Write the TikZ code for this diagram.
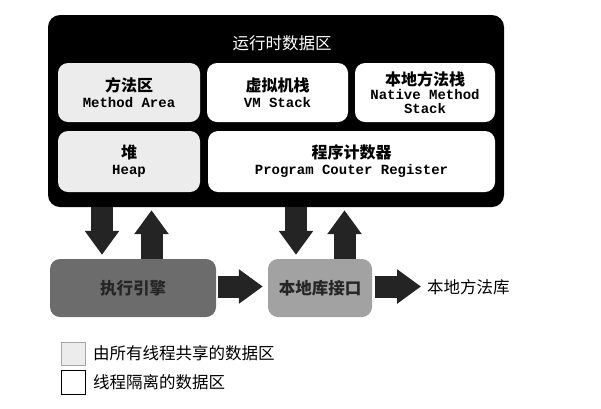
\documentclass[tikz,border=0pt]{standalone}
\usepackage{fontspec}
\setmainfont{Noto Sans CJK SC}
\newfontfamily\cjk{Noto Sans CJK SC}
\newfontfamily\mono{Liberation Mono}
\usetikzlibrary{arrows.meta}
\definecolor{shared}{HTML}{ECECEC}
\definecolor{engine}{HTML}{6C6C6C}
\definecolor{iface}{HTML}{A2A2A2}
\definecolor{arrowc}{HTML}{242424}
\tikzset{
  area/.style={draw=none, rounded corners=10pt, align=center, inner sep=0pt,
    font=\fontsize{16}{18}\selectfont\bfseries},
  sharedarea/.style={area, fill=shared},
  privarea/.style={area, fill=white},
  lowerbox/.style={draw=none, rounded corners=10pt, inner sep=0pt,
    font=\fontsize{16.5}{18}\selectfont\bfseries, text=black!85},
  blk/.style={draw=arrowc, line width=22pt,
    -{Triangle[length=24pt,width=33pt]}},
  legendsq/.style={minimum width=24pt, minimum height=23pt, inner sep=0pt},
  legendtxt/.style={anchor=west, inner sep=0pt, font=\fontsize{16.5}{18}\selectfont},
}
\newcommand{\mn}[1]{{\mono\bfseries\fontsize{14}{17}\selectfont #1}}
\begin{document}
\begin{tikzpicture}[x=1pt,y=-1pt]
\useasboundingbox (0,0) rectangle (601,408);
\node[fill=black, rounded corners=12pt, minimum width=456pt, minimum height=192pt, inner sep=0pt] (outer) at (276,111) {};
\node[text=white, font=\fontsize{16.5}{18}\selectfont, inner sep=0pt] (title) at (282,43) {运行时数据区};
\node[sharedarea, minimum width=142pt, minimum height=59pt] (method) at (129,92.5) {方法区\\[-2pt]\mn{Method Area}};
\node[privarea, minimum width=141pt, minimum height=59pt] (vm) at (277.5,92.5) {虚拟机栈\\[-2pt]\mn{VM Stack}};
\node[privarea, minimum width=140pt, minimum height=59pt] (native) at (425,92.5) {本地方法栈\\[-4pt]\mn{Native Method}\\[-4pt]\mn{Stack}};
\node[sharedarea, minimum width=142pt, minimum height=61pt] (heap) at (129,161.5) {堆\\[-2pt]\mn{Heap}};
\node[privarea, minimum width=287pt, minimum height=61pt] (pc) at (351.5,161.5) {程序计数器\\[-2pt]\mn{Program Couter Register}};

\node[lowerbox, fill=engine, minimum width=166pt, minimum height=58pt] (exec) at (133,288) {执行引擎};
\node[lowerbox, fill=iface, minimum width=104pt, minimum height=58pt] (jni) at (320,288) {本地库接口};
\node[anchor=west, inner sep=0pt, font=\fontsize{16.5}{18}\selectfont] (lib) at (427,287) {本地方法库};

\coordinate (d1) at (102,0);
\coordinate (u1) at (151.5,0);
\coordinate (d2) at (296,0);
\coordinate (u2) at (344.5,0);
\coordinate (r) at (0,286.5);
\draw[blk, shorten >=4pt] (d1 |- outer.south) -- (d1 |- exec.north);
\draw[blk, shorten >=3pt] (u1 |- exec.north) -- (u1 |- outer.south);
\draw[blk, shorten >=4pt] (d2 |- outer.south) -- (d2 |- jni.north);
\draw[blk, shorten >=3pt] (u2 |- jni.north) -- (u2 |- outer.south);
\draw[blk, shorten <=2pt, shorten >=5pt] (exec.east |- r) -- (jni.west |- r);
\draw[blk, shorten <=3pt, shorten >=6pt] (jni.east |- r) -- (lib.west |- r);

\node[legendsq, draw=black!35, fill=shared] (sq1) at (73,353.5) {};
\node[legendsq, draw=black, line width=1pt, fill=white, minimum height=24pt] (sq2) at (73,382) {};
\node[legendtxt] (l1) at (93,353) {由所有线程共享的数据区};
\node[legendtxt] (l2) at (93,382) {线程隔离的数据区};
\end{tikzpicture}
\end{document}
